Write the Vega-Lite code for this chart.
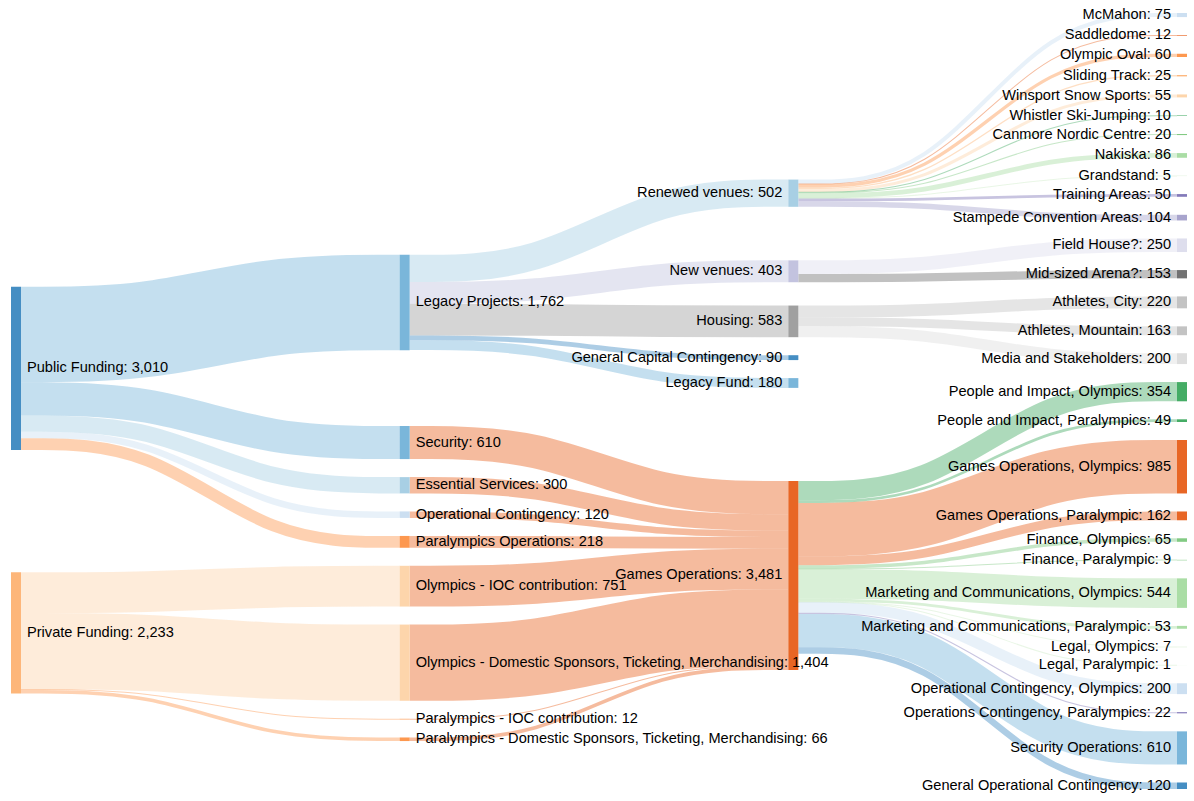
{
  "$schema": "https://vega.github.io/schema/vega-lite/v6.json",
  "width": 1176,
  "height": 776,
  "autosize": {"type": "none"},
  "padding": {"left": 11, "top": 13, "right": 7, "bottom": 12},
  "background": "white",
  "config": {"view": {"stroke": null}},
  "data": {"values": [
    {"kind": "node", "name": "Public Funding", "col": 0, "total": 3010},
    {"kind": "node", "name": "Private Funding", "col": 0, "total": 2233},
    {"kind": "node", "name": "Legacy Projects", "col": 1, "total": 1762},
    {"kind": "node", "name": "Security", "col": 1, "total": 610},
    {"kind": "node", "name": "Essential Services", "col": 1, "total": 300},
    {"kind": "node", "name": "Operational Contingency", "col": 1, "total": 120},
    {"kind": "node", "name": "Paralympics Operations", "col": 1, "total": 218},
    {"kind": "node", "name": "Olympics - IOC contribution", "col": 1, "total": 751},
    {"kind": "node", "name": "Olympics - Domestic Sponsors, Ticketing, Merchandising", "col": 1, "total": 1404},
    {"kind": "node", "name": "Paralympics - IOC contribution", "col": 1, "total": 12},
    {"kind": "node", "name": "Paralympics - Domestic Sponsors, Ticketing, Merchandising", "col": 1, "total": 66},
    {"kind": "node", "name": "Renewed venues", "col": 2, "total": 502},
    {"kind": "node", "name": "New venues", "col": 2, "total": 403},
    {"kind": "node", "name": "Housing", "col": 2, "total": 583},
    {"kind": "node", "name": "General Capital Contingency", "col": 2, "total": 90},
    {"kind": "node", "name": "Legacy Fund", "col": 2, "total": 180},
    {"kind": "node", "name": "Games Operations", "col": 2, "total": 3481},
    {"kind": "node", "name": "McMahon", "col": 3, "total": 75},
    {"kind": "node", "name": "Saddledome", "col": 3, "total": 12},
    {"kind": "node", "name": "Olympic Oval", "col": 3, "total": 60},
    {"kind": "node", "name": "Sliding Track", "col": 3, "total": 25},
    {"kind": "node", "name": "Winsport Snow Sports", "col": 3, "total": 55},
    {"kind": "node", "name": "Whistler Ski-Jumping", "col": 3, "total": 10},
    {"kind": "node", "name": "Canmore Nordic Centre", "col": 3, "total": 20},
    {"kind": "node", "name": "Nakiska", "col": 3, "total": 86},
    {"kind": "node", "name": "Grandstand", "col": 3, "total": 5},
    {"kind": "node", "name": "Training Areas", "col": 3, "total": 50},
    {"kind": "node", "name": "Stampede Convention Areas", "col": 3, "total": 104},
    {"kind": "node", "name": "Field House?", "col": 3, "total": 250},
    {"kind": "node", "name": "Mid-sized Arena?", "col": 3, "total": 153},
    {"kind": "node", "name": "Athletes, City", "col": 3, "total": 220},
    {"kind": "node", "name": "Athletes, Mountain", "col": 3, "total": 163},
    {"kind": "node", "name": "Media and Stakeholders", "col": 3, "total": 200},
    {"kind": "node", "name": "People and Impact, Olympics", "col": 3, "total": 354},
    {"kind": "node", "name": "People and Impact, Paralympics", "col": 3, "total": 49},
    {"kind": "node", "name": "Games Operations, Olympics", "col": 3, "total": 985},
    {"kind": "node", "name": "Games Operations, Paralympic", "col": 3, "total": 162},
    {"kind": "node", "name": "Finance, Olympics", "col": 3, "total": 65},
    {"kind": "node", "name": "Finance, Paralympic", "col": 3, "total": 9},
    {"kind": "node", "name": "Marketing and Communications, Olympics", "col": 3, "total": 544},
    {"kind": "node", "name": "Marketing and Communications, Paralympic", "col": 3, "total": 53},
    {"kind": "node", "name": "Legal, Olympics", "col": 3, "total": 7},
    {"kind": "node", "name": "Legal, Paralympic", "col": 3, "total": 1},
    {"kind": "node", "name": "Operational Contingency, Olympics", "col": 3, "total": 200},
    {"kind": "node", "name": "Operations Contingency, Paralympics", "col": 3, "total": 22},
    {"kind": "node", "name": "Security Operations", "col": 3, "total": 610},
    {"kind": "node", "name": "General Operational Contingency", "col": 3, "total": 120},
    {"kind": "link", "source": "Public Funding", "target": "Legacy Projects", "value": 1762},
    {"kind": "link", "source": "Public Funding", "target": "Security", "value": 610},
    {"kind": "link", "source": "Public Funding", "target": "Essential Services", "value": 300},
    {"kind": "link", "source": "Public Funding", "target": "Operational Contingency", "value": 120},
    {"kind": "link", "source": "Public Funding", "target": "Paralympics Operations", "value": 218},
    {"kind": "link", "source": "Private Funding", "target": "Olympics - IOC contribution", "value": 751},
    {"kind": "link", "source": "Private Funding", "target": "Olympics - Domestic Sponsors, Ticketing, Merchandising", "value": 1404},
    {"kind": "link", "source": "Private Funding", "target": "Paralympics - IOC contribution", "value": 12},
    {"kind": "link", "source": "Private Funding", "target": "Paralympics - Domestic Sponsors, Ticketing, Merchandising", "value": 66},
    {"kind": "link", "source": "Legacy Projects", "target": "Renewed venues", "value": 502},
    {"kind": "link", "source": "Legacy Projects", "target": "New venues", "value": 403},
    {"kind": "link", "source": "Legacy Projects", "target": "Housing", "value": 583},
    {"kind": "link", "source": "Legacy Projects", "target": "General Capital Contingency", "value": 90},
    {"kind": "link", "source": "Legacy Projects", "target": "Legacy Fund", "value": 180},
    {"kind": "link", "source": "Security", "target": "Games Operations", "value": 610},
    {"kind": "link", "source": "Essential Services", "target": "Games Operations", "value": 300},
    {"kind": "link", "source": "Operational Contingency", "target": "Games Operations", "value": 120},
    {"kind": "link", "source": "Paralympics Operations", "target": "Games Operations", "value": 218},
    {"kind": "link", "source": "Olympics - IOC contribution", "target": "Games Operations", "value": 751},
    {"kind": "link", "source": "Olympics - Domestic Sponsors, Ticketing, Merchandising", "target": "Games Operations", "value": 1404},
    {"kind": "link", "source": "Paralympics - IOC contribution", "target": "Games Operations", "value": 12},
    {"kind": "link", "source": "Paralympics - Domestic Sponsors, Ticketing, Merchandising", "target": "Games Operations", "value": 66},
    {"kind": "link", "source": "Renewed venues", "target": "McMahon", "value": 75},
    {"kind": "link", "source": "Renewed venues", "target": "Saddledome", "value": 12},
    {"kind": "link", "source": "Renewed venues", "target": "Olympic Oval", "value": 60},
    {"kind": "link", "source": "Renewed venues", "target": "Sliding Track", "value": 25},
    {"kind": "link", "source": "Renewed venues", "target": "Winsport Snow Sports", "value": 55},
    {"kind": "link", "source": "Renewed venues", "target": "Whistler Ski-Jumping", "value": 10},
    {"kind": "link", "source": "Renewed venues", "target": "Canmore Nordic Centre", "value": 20},
    {"kind": "link", "source": "Renewed venues", "target": "Nakiska", "value": 86},
    {"kind": "link", "source": "Renewed venues", "target": "Grandstand", "value": 5},
    {"kind": "link", "source": "Renewed venues", "target": "Training Areas", "value": 50},
    {"kind": "link", "source": "Renewed venues", "target": "Stampede Convention Areas", "value": 104},
    {"kind": "link", "source": "New venues", "target": "Field House?", "value": 250},
    {"kind": "link", "source": "New venues", "target": "Mid-sized Arena?", "value": 153},
    {"kind": "link", "source": "Housing", "target": "Athletes, City", "value": 220},
    {"kind": "link", "source": "Housing", "target": "Athletes, Mountain", "value": 163},
    {"kind": "link", "source": "Housing", "target": "Media and Stakeholders", "value": 200},
    {"kind": "link", "source": "Games Operations", "target": "People and Impact, Olympics", "value": 354},
    {"kind": "link", "source": "Games Operations", "target": "People and Impact, Paralympics", "value": 49},
    {"kind": "link", "source": "Games Operations", "target": "Games Operations, Olympics", "value": 985},
    {"kind": "link", "source": "Games Operations", "target": "Games Operations, Paralympic", "value": 162},
    {"kind": "link", "source": "Games Operations", "target": "Finance, Olympics", "value": 65},
    {"kind": "link", "source": "Games Operations", "target": "Finance, Paralympic", "value": 9},
    {"kind": "link", "source": "Games Operations", "target": "Marketing and Communications, Olympics", "value": 544},
    {"kind": "link", "source": "Games Operations", "target": "Marketing and Communications, Paralympic", "value": 53},
    {"kind": "link", "source": "Games Operations", "target": "Legal, Olympics", "value": 7},
    {"kind": "link", "source": "Games Operations", "target": "Legal, Paralympic", "value": 1},
    {"kind": "link", "source": "Games Operations", "target": "Operational Contingency, Olympics", "value": 200},
    {"kind": "link", "source": "Games Operations", "target": "Operations Contingency, Paralympics", "value": 22},
    {"kind": "link", "source": "Games Operations", "target": "Security Operations", "value": 610},
    {"kind": "link", "source": "Games Operations", "target": "General Operational Contingency", "value": 120}
  ]},
  "transform": [
    {"window": [{"op": "row_number", "as": "idx"}], "groupby": ["kind"]},
    {"fold": ["source", "target"], "as": ["endKey", "endNode"]},
    {"filter": "datum.kind == 'link' || datum.endKey == 'source'"},
    {"calculate": "datum.kind == 'node' ? datum.name : datum.endNode", "as": "node"},
    {"calculate": "datum.kind == 'node' ? 'node' : datum.endKey", "as": "end"},
    {"calculate": "datum.kind == 'node' ? datum.idx : null", "as": "nIdx"},
    {"calculate": "datum.kind == 'link' ? datum.idx : -1", "as": "lid"},
    {"joinaggregate": [{"op": "max", "field": "nIdx", "as": "ord"}, {"op": "max", "field": "col", "as": "c"}, {"op": "max", "field": "total", "as": "tot"}], "groupby": ["node"]},
    {"calculate": "datum.end == 'source' ? datum.ord : null", "as": "sOrdRaw"},
    {"calculate": "datum.end == 'target' ? datum.ord : null", "as": "tOrdRaw"},
    {"joinaggregate": [{"op": "max", "field": "sOrdRaw", "as": "sOrd"}, {"op": "max", "field": "tOrdRaw", "as": "tOrd"}], "groupby": ["lid"]},
    {"calculate": "datum.end == 'source' ? datum.tOrd : datum.sOrd", "as": "pOrd"},
    {"calculate": "datum.end == 'node' ? datum.tot + 332 : 0", "as": "contrib"},
    {"window": [{"op": "sum", "field": "contrib", "as": "cum"}], "groupby": ["c"], "sort": [{"field": "ord", "order": "ascending"}], "frame": [null, 0]},
    {"calculate": "datum.cum - datum.tot - 332", "as": "S"},
    {"joinaggregate": [{"op": "max", "field": "cum", "as": "T"}], "groupby": ["c"]},
    {"calculate": "datum.end == 'node' ? 0 : datum.value", "as": "lv"},
    {"joinaggregate": [{"op": "sum", "field": "lv", "as": "WT"}], "groupby": ["node"]},
    {"window": [{"op": "sum", "field": "lv", "as": "lcum"}], "groupby": ["node", "end"], "sort": [{"field": "pOrd", "order": "ascending"}], "frame": [null, 0]},
    {"calculate": "datum.end == 'node' ? 0 : datum.lcum - datum.lv", "as": "off"},
    {"calculate": "datum.S", "as": "y0"},

    {"calculate": "datum.end == 'node' ? null : datum.y0 + datum.off", "as": "p1"},
    {"joinaggregate": [{"op": "sum", "field": "p1", "as": "q1"}], "groupby": ["lid"]},
    {"calculate": "datum.end == 'node' ? 0 : datum.lv * (datum.q1 - datum.p1 - datum.off)", "as": "w1"},
    {"joinaggregate": [{"op": "sum", "field": "w1", "as": "v1"}], "groupby": ["node"]},
    {"calculate": "datum.y0 + (datum.v1 / datum.WT - datum.y0) * 0.9", "as": "z1"},
    {"calculate": "datum.z1 - datum.S", "as": "e1"},
    {"window": [{"op": "max", "field": "e1", "as": "m1"}], "groupby": ["c"], "sort": [{"field": "ord", "order": "ascending"}], "frame": [null, 0]},
    {"calculate": "datum.S + min(max(datum.m1, 0), 14629 - datum.T)", "as": "y1"},

    {"calculate": "datum.end == 'node' ? null : datum.y1 + datum.off", "as": "p2"},
    {"joinaggregate": [{"op": "sum", "field": "p2", "as": "q2"}], "groupby": ["lid"]},
    {"calculate": "datum.end == 'node' ? 0 : datum.lv * (datum.q2 - datum.p2 - datum.off)", "as": "w2"},
    {"joinaggregate": [{"op": "sum", "field": "w2", "as": "v2"}], "groupby": ["node"]},
    {"calculate": "datum.y1 + (datum.v2 / datum.WT - datum.y1) * 0.9", "as": "z2"},
    {"calculate": "datum.z2 - datum.S", "as": "e2"},
    {"window": [{"op": "max", "field": "e2", "as": "m2"}], "groupby": ["c"], "sort": [{"field": "ord", "order": "ascending"}], "frame": [null, 0]},
    {"calculate": "datum.S + min(max(datum.m2, 0), 14629 - datum.T)", "as": "y2"},

    {"calculate": "datum.end == 'node' ? null : datum.y2 + datum.off", "as": "p3"},
    {"joinaggregate": [{"op": "sum", "field": "p3", "as": "q3"}], "groupby": ["lid"]},
    {"calculate": "datum.end == 'node' ? 0 : datum.lv * (datum.q3 - datum.p3 - datum.off)", "as": "w3"},
    {"joinaggregate": [{"op": "sum", "field": "w3", "as": "v3"}], "groupby": ["node"]},
    {"calculate": "datum.y2 + (datum.v3 / datum.WT - datum.y2) * 0.9", "as": "z3"},
    {"calculate": "datum.z3 - datum.S", "as": "e3"},
    {"window": [{"op": "max", "field": "e3", "as": "m3"}], "groupby": ["c"], "sort": [{"field": "ord", "order": "ascending"}], "frame": [null, 0]},
    {"calculate": "datum.S + min(max(datum.m3, 0), 14629 - datum.T)", "as": "y3"},

    {"calculate": "datum.end == 'node' ? null : datum.y3 + datum.off", "as": "p4"},
    {"joinaggregate": [{"op": "sum", "field": "p4", "as": "q4"}], "groupby": ["lid"]},
    {"calculate": "datum.end == 'node' ? 0 : datum.lv * (datum.q4 - datum.p4 - datum.off)", "as": "w4"},
    {"joinaggregate": [{"op": "sum", "field": "w4", "as": "v4"}], "groupby": ["node"]},
    {"calculate": "datum.y3 + (datum.v4 / datum.WT - datum.y3) * 0.9", "as": "z4"},
    {"calculate": "datum.z4 - datum.S", "as": "e4"},
    {"window": [{"op": "max", "field": "e4", "as": "m4"}], "groupby": ["c"], "sort": [{"field": "ord", "order": "ascending"}], "frame": [null, 0]},
    {"calculate": "datum.S + min(max(datum.m4, 0), 14629 - datum.T)", "as": "y4"},

    {"calculate": "datum.end == 'node' ? null : datum.y4 + datum.off", "as": "p5"},
    {"joinaggregate": [{"op": "sum", "field": "p5", "as": "q5"}], "groupby": ["lid"]},
    {"calculate": "datum.end == 'node' ? 0 : datum.lv * (datum.q5 - datum.p5 - datum.off)", "as": "w5"},
    {"joinaggregate": [{"op": "sum", "field": "w5", "as": "v5"}], "groupby": ["node"]},
    {"calculate": "datum.y4 + (datum.v5 / datum.WT - datum.y4) * 0.9", "as": "z5"},
    {"calculate": "datum.z5 - datum.S", "as": "e5"},
    {"window": [{"op": "max", "field": "e5", "as": "m5"}], "groupby": ["c"], "sort": [{"field": "ord", "order": "ascending"}], "frame": [null, 0]},
    {"calculate": "datum.S + min(max(datum.m5, 0), 14629 - datum.T)", "as": "y5"},

    {"calculate": "datum.end == 'node' ? null : datum.y5 + datum.off", "as": "p6"},
    {"joinaggregate": [{"op": "sum", "field": "p6", "as": "q6"}], "groupby": ["lid"]},
    {"calculate": "datum.end == 'node' ? 0 : datum.lv * (datum.q6 - datum.p6 - datum.off)", "as": "w6"},
    {"joinaggregate": [{"op": "sum", "field": "w6", "as": "v6"}], "groupby": ["node"]},
    {"calculate": "datum.y5 + (datum.v6 / datum.WT - datum.y5) * 0.9", "as": "z6"},
    {"calculate": "datum.z6 - datum.S", "as": "e6"},
    {"window": [{"op": "max", "field": "e6", "as": "m6"}], "groupby": ["c"], "sort": [{"field": "ord", "order": "ascending"}], "frame": [null, 0]},
    {"calculate": "datum.S + min(max(datum.m6, 0), 14629 - datum.T)", "as": "y6"},

    {"calculate": "datum.end == 'node' ? null : datum.y6 + datum.off", "as": "p7"},
    {"joinaggregate": [{"op": "sum", "field": "p7", "as": "q7"}], "groupby": ["lid"]},
    {"calculate": "datum.end == 'node' ? 0 : datum.lv * (datum.q7 - datum.p7 - datum.off)", "as": "w7"},
    {"joinaggregate": [{"op": "sum", "field": "w7", "as": "v7"}], "groupby": ["node"]},
    {"calculate": "datum.y6 + (datum.v7 / datum.WT - datum.y6) * 0.9", "as": "z7"},
    {"calculate": "datum.z7 - datum.S", "as": "e7"},
    {"window": [{"op": "max", "field": "e7", "as": "m7"}], "groupby": ["c"], "sort": [{"field": "ord", "order": "ascending"}], "frame": [null, 0]},
    {"calculate": "datum.S + min(max(datum.m7, 0), 14629 - datum.T)", "as": "y7"},

    {"calculate": "datum.end == 'node' ? null : datum.y7 + datum.off", "as": "p8"},
    {"joinaggregate": [{"op": "sum", "field": "p8", "as": "q8"}], "groupby": ["lid"]},
    {"calculate": "datum.end == 'node' ? 0 : datum.lv * (datum.q8 - datum.p8 - datum.off)", "as": "w8"},
    {"joinaggregate": [{"op": "sum", "field": "w8", "as": "v8"}], "groupby": ["node"]},
    {"calculate": "datum.y7 + (datum.v8 / datum.WT - datum.y7) * 0.9", "as": "z8"},
    {"calculate": "datum.z8 - datum.S", "as": "e8"},
    {"window": [{"op": "max", "field": "e8", "as": "m8"}], "groupby": ["c"], "sort": [{"field": "ord", "order": "ascending"}], "frame": [null, 0]},
    {"calculate": "datum.S + min(max(datum.m8, 0), 14629 - datum.T)", "as": "y8"},

    {"calculate": "datum.end == 'node' ? null : datum.y8 + datum.off", "as": "p9"},
    {"joinaggregate": [{"op": "sum", "field": "p9", "as": "q9"}], "groupby": ["lid"]},
    {"calculate": "datum.end == 'node' ? 0 : datum.lv * (datum.q9 - datum.p9 - datum.off)", "as": "w9"},
    {"joinaggregate": [{"op": "sum", "field": "w9", "as": "v9"}], "groupby": ["node"]},
    {"calculate": "datum.y8 + (datum.v9 / datum.WT - datum.y8) * 0.9", "as": "z9"},
    {"calculate": "datum.z9 - datum.S", "as": "e9"},
    {"window": [{"op": "max", "field": "e9", "as": "m9"}], "groupby": ["c"], "sort": [{"field": "ord", "order": "ascending"}], "frame": [null, 0]},
    {"calculate": "datum.S + min(max(datum.m9, 0), 14629 - datum.T)", "as": "y9"},

    {"calculate": "datum.end == 'node' ? null : datum.y9 + datum.off", "as": "p10"},
    {"joinaggregate": [{"op": "sum", "field": "p10", "as": "q10"}], "groupby": ["lid"]},
    {"calculate": "datum.end == 'node' ? 0 : datum.lv * (datum.q10 - datum.p10 - datum.off)", "as": "w10"},
    {"joinaggregate": [{"op": "sum", "field": "w10", "as": "v10"}], "groupby": ["node"]},
    {"calculate": "datum.y9 + (datum.v10 / datum.WT - datum.y9) * 0.9", "as": "z10"},
    {"calculate": "datum.z10 - datum.S", "as": "e10"},
    {"window": [{"op": "max", "field": "e10", "as": "m10"}], "groupby": ["c"], "sort": [{"field": "ord", "order": "ascending"}], "frame": [null, 0]},
    {"calculate": "datum.S + min(max(datum.m10, 0), 14629 - datum.T)", "as": "y10"},

    {"calculate": "datum.end == 'node' ? null : datum.y10 + datum.off", "as": "p11"},
    {"joinaggregate": [{"op": "sum", "field": "p11", "as": "q11"}], "groupby": ["lid"]},
    {"calculate": "datum.end == 'node' ? 0 : datum.lv * (datum.q11 - datum.p11 - datum.off)", "as": "w11"},
    {"joinaggregate": [{"op": "sum", "field": "w11", "as": "v11"}], "groupby": ["node"]},
    {"calculate": "datum.y10 + (datum.v11 / datum.WT - datum.y10) * 0.9", "as": "z11"},
    {"calculate": "datum.z11 - datum.S", "as": "e11"},
    {"window": [{"op": "max", "field": "e11", "as": "m11"}], "groupby": ["c"], "sort": [{"field": "ord", "order": "ascending"}], "frame": [null, 0]},
    {"calculate": "datum.S + min(max(datum.m11, 0), 14629 - datum.T)", "as": "y11"},

    {"calculate": "datum.end == 'node' ? null : datum.y11 + datum.off", "as": "p12"},
    {"joinaggregate": [{"op": "sum", "field": "p12", "as": "q12"}], "groupby": ["lid"]},
    {"calculate": "datum.end == 'node' ? 0 : datum.lv * (datum.q12 - datum.p12 - datum.off)", "as": "w12"},
    {"joinaggregate": [{"op": "sum", "field": "w12", "as": "v12"}], "groupby": ["node"]},
    {"calculate": "datum.y11 + (datum.v12 / datum.WT - datum.y11) * 0.9", "as": "z12"},
    {"calculate": "datum.z12 - datum.S", "as": "e12"},
    {"window": [{"op": "max", "field": "e12", "as": "m12"}], "groupby": ["c"], "sort": [{"field": "ord", "order": "ascending"}], "frame": [null, 0]},
    {"calculate": "datum.S + min(max(datum.m12, 0), 14629 - datum.T)", "as": "y12"},

    {"calculate": "datum.end == 'node' ? null : datum.y12 + datum.off", "as": "p13"},
    {"joinaggregate": [{"op": "sum", "field": "p13", "as": "q13"}], "groupby": ["lid"]},
    {"calculate": "datum.end == 'node' ? 0 : datum.lv * (datum.q13 - datum.p13 - datum.off)", "as": "w13"},
    {"joinaggregate": [{"op": "sum", "field": "w13", "as": "v13"}], "groupby": ["node"]},
    {"calculate": "datum.y12 + (datum.v13 / datum.WT - datum.y12) * 0.9", "as": "z13"},
    {"calculate": "datum.z13 - datum.S", "as": "e13"},
    {"window": [{"op": "max", "field": "e13", "as": "m13"}], "groupby": ["c"], "sort": [{"field": "ord", "order": "ascending"}], "frame": [null, 0]},
    {"calculate": "datum.S + min(max(datum.m13, 0), 14629 - datum.T)", "as": "y13"},

    {"calculate": "datum.end == 'node' ? null : datum.y13 + datum.off", "as": "p14"},
    {"joinaggregate": [{"op": "sum", "field": "p14", "as": "q14"}], "groupby": ["lid"]},
    {"calculate": "datum.end == 'node' ? 0 : datum.lv * (datum.q14 - datum.p14 - datum.off)", "as": "w14"},
    {"joinaggregate": [{"op": "sum", "field": "w14", "as": "v14"}], "groupby": ["node"]},
    {"calculate": "datum.y13 + (datum.v14 / datum.WT - datum.y13) * 0.9", "as": "z14"},
    {"calculate": "datum.z14 - datum.S", "as": "e14"},
    {"window": [{"op": "max", "field": "e14", "as": "m14"}], "groupby": ["c"], "sort": [{"field": "ord", "order": "ascending"}], "frame": [null, 0]},
    {"calculate": "datum.S + min(max(datum.m14, 0), 14629 - datum.T)", "as": "y14"},

    {"calculate": "datum.end == 'node' ? null : datum.y14 + datum.off", "as": "p15"},
    {"joinaggregate": [{"op": "sum", "field": "p15", "as": "q15"}], "groupby": ["lid"]},
    {"calculate": "datum.end == 'node' ? 0 : datum.lv * (datum.q15 - datum.p15 - datum.off)", "as": "w15"},
    {"joinaggregate": [{"op": "sum", "field": "w15", "as": "v15"}], "groupby": ["node"]},
    {"calculate": "datum.y14 + (datum.v15 / datum.WT - datum.y14) * 0.9", "as": "z15"},
    {"calculate": "datum.z15 - datum.S", "as": "e15"},
    {"window": [{"op": "max", "field": "e15", "as": "m15"}], "groupby": ["c"], "sort": [{"field": "ord", "order": "ascending"}], "frame": [null, 0]},
    {"calculate": "datum.S + min(max(datum.m15, 0), 14629 - datum.T)", "as": "y15"},

    {"calculate": "datum.end == 'node' ? null : datum.y15 + datum.off", "as": "p16"},
    {"joinaggregate": [{"op": "sum", "field": "p16", "as": "q16"}], "groupby": ["lid"]},
    {"calculate": "datum.end == 'node' ? 0 : datum.lv * (datum.q16 - datum.p16 - datum.off)", "as": "w16"},
    {"joinaggregate": [{"op": "sum", "field": "w16", "as": "v16"}], "groupby": ["node"]},
    {"calculate": "datum.y15 + (datum.v16 / datum.WT - datum.y15) * 0.9", "as": "z16"},
    {"calculate": "datum.z16 - datum.S", "as": "e16"},
    {"window": [{"op": "max", "field": "e16", "as": "m16"}], "groupby": ["c"], "sort": [{"field": "ord", "order": "ascending"}], "frame": [null, 0]},
    {"calculate": "datum.S + min(max(datum.m16, 0), 14629 - datum.T)", "as": "yF"},

    {"calculate": "datum.yF + datum.off", "as": "yTop"},
    {"calculate": "datum.end == 'source' ? datum.yTop : null", "as": "sYr"},
    {"joinaggregate": [{"op": "max", "field": "sYr", "as": "sY"}], "groupby": ["lid"]},
    {"calculate": "replace(split(datum.node, ' ')[0], ',', '')", "as": "grp"}
  ],
  "layer": [
    {
      "transform": [
        {"filter": "datum.end == 'target'"},
        {"calculate": "datum.c - 1 + 0.02573", "as": "xs"},
        {"calculate": "datum.sY + datum.value / 2", "as": "a0"},
        {"calculate": "datum.sY + datum.value / 2", "as": "a1"},
        {"calculate": "datum.yTop + datum.value / 2", "as": "a2"},
        {"calculate": "datum.yTop + datum.value / 2", "as": "a3"},
        {"fold": ["a0", "a1", "a2", "a3"], "as": ["pk", "py"]},
        {"calculate": "datum.pk == 'a0' ? datum.xs : datum.pk == 'a1' ? datum.xs + (datum.c - datum.xs) / 3 : datum.pk == 'a2' ? datum.xs + 2 * (datum.c - datum.xs) / 3 : datum.c", "as": "px"},
        {"calculate": "max(datum.value, 18.5)", "as": "lw"}
      ],
      "mark": {"type": "line", "interpolate": "basis", "strokeOpacity": 0.4, "strokeCap": "butt"},
      "encoding": {
        "x": {"field": "px", "type": "quantitative", "scale": {"domain": [0, 3.02573], "nice": false, "zero": false}, "axis": null},
        "y": {"field": "py", "type": "quantitative", "scale": {"domain": [0, 14297], "reverse": true, "nice": false, "zero": false}, "axis": null},
        "size": {"field": "lw", "type": "quantitative", "legend": null, "scale": {"type": "linear", "domain": [0, 14297], "range": [0, 776], "zero": true, "nice": false}},
        "detail": {"field": "lid", "type": "nominal"},
        "color": {"field": "grp", "type": "nominal", "legend": null,
          "scale": {
            "domain": ["Public", "Legacy", "Renewed", "McMahon", "Saddledome", "Olympic", "Sliding", "Winsport", "Whistler", "Canmore", "Nakiska", "Grandstand", "Training", "Stampede", "New", "Field", "Mid-sized", "Housing", "Athletes", "Media", "General", "Security", "Essential", "Operational", "Games", "Paralympics", "Private", "Olympics", "People", "Finance", "Marketing", "Legal", "Operations"],
            "range": ["#3182bd", "#6baed6", "#9ecae1", "#c6dbef", "#e6550d", "#fd8d3c", "#fdae6b", "#fdd0a2", "#31a354", "#74c476", "#a1d99b", "#c7e9c0", "#756bb1", "#9e9ac8", "#bcbddc", "#dadaeb", "#636363", "#969696", "#bdbdbd", "#d9d9d9", "#3182bd", "#6baed6", "#9ecae1", "#c6dbef", "#e6550d", "#fd8d3c", "#fdae6b", "#fdd0a2", "#31a354", "#74c476", "#a1d99b", "#c7e9c0", "#756bb1"]
          }}
      }
    },
    {
      "transform": [
        {"filter": "datum.end == 'node'"},
        {"calculate": "datum.c + 0.02573", "as": "xr"},
        {"calculate": "datum.yF + datum.tot", "as": "yb"}
      ],
      "mark": {"type": "rect", "opacity": 0.9},
      "encoding": {
        "x": {"field": "c", "type": "quantitative", "scale": {"domain": [0, 3.02573], "nice": false, "zero": false}, "axis": null},
        "x2": {"field": "xr"},
        "y": {"field": "yF", "type": "quantitative", "scale": {"domain": [0, 14297], "reverse": true, "nice": false, "zero": false}, "axis": null},
        "y2": {"field": "yb"},
        "color": {"field": "grp", "type": "nominal", "legend": null}
      }
    },
    {
      "transform": [
        {"filter": "datum.end == 'node' && datum.c < 2"},
        {"calculate": "datum.c + 0.02573", "as": "lx"},
        {"calculate": "datum.yF + datum.tot / 2", "as": "ly"},
        {"calculate": "datum.node + ': ' + format(datum.tot, ',')", "as": "label"}
      ],
      "mark": {"type": "text", "align": "left", "baseline": "middle", "dx": 6, "font": "Liberation Sans", "fontSize": 14.6, "fill": "#000"},
      "encoding": {
        "x": {"field": "lx", "type": "quantitative", "scale": {"domain": [0, 3.02573], "nice": false, "zero": false}, "axis": null},
        "y": {"field": "ly", "type": "quantitative", "scale": {"domain": [0, 14297], "reverse": true, "nice": false, "zero": false}, "axis": null},
        "text": {"field": "label", "type": "nominal"}
      }
    },
    {
      "transform": [
        {"filter": "datum.end == 'node' && datum.c >= 2"},
        {"calculate": "datum.yF + datum.tot / 2", "as": "ly"},
        {"calculate": "datum.node + ': ' + format(datum.tot, ',')", "as": "label"}
      ],
      "mark": {"type": "text", "align": "right", "baseline": "middle", "dx": -6, "font": "Liberation Sans", "fontSize": 14.6, "fill": "#000"},
      "encoding": {
        "x": {"field": "c", "type": "quantitative", "scale": {"domain": [0, 3.02573], "nice": false, "zero": false}, "axis": null},
        "y": {"field": "ly", "type": "quantitative", "scale": {"domain": [0, 14297], "reverse": true, "nice": false, "zero": false}, "axis": null},
        "text": {"field": "label", "type": "nominal"}
      }
    }
  ]
}
